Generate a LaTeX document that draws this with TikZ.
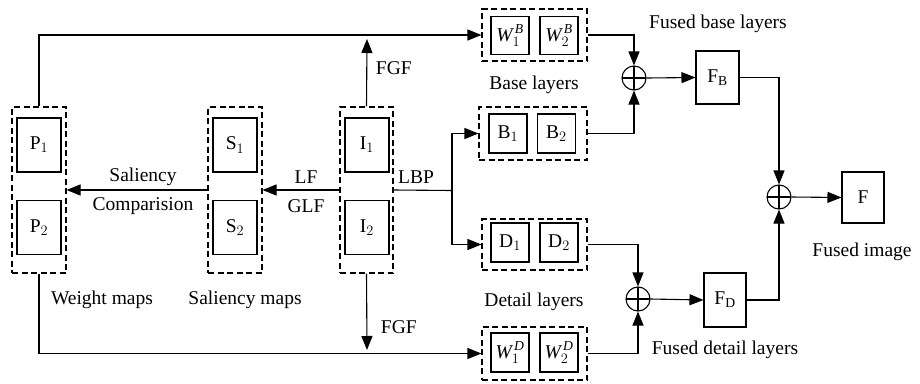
\documentclass[tikz,border=0pt]{standalone}
\usepackage{fontspec}
\setmainfont{Liberation Serif}
\usepackage{tikz}
\usetikzlibrary{arrows.meta}

\tikzset{
  box/.style={draw, line width=1.1pt, minimum width=44, minimum height=54, inner sep=0},
  wbox/.style={draw, line width=1.1pt, minimum width=38, minimum height=38, inner sep=0},
  grp/.style={draw, line width=1.1pt, dash pattern=on 6pt off 3.5pt, inner sep=0},
  oplus/.style={draw, line width=1.1pt, circle, minimum size=24, inner sep=0,
    path picture={\draw[line width=1.1pt] (path picture bounding box.north) -- (path picture bounding box.south)
      (path picture bounding box.west) -- (path picture bounding box.east);}},
  lbl/.style={inner sep=0.75pt},
  conn/.style={line width=1.1pt},
  arr/.style={line width=1.1pt, -{Triangle[length=14pt,width=11pt]}}
}
\newcommand{\wmap}[2]{$\mathit{W}_{#1}^{\mkern3mu\mathit{#2}}$}

\begin{document}
\begin{tikzpicture}[x=1pt,y=1pt,yscale=-1,xscale=1,font=\fontsize{19.5}{23}\selectfont]
    \useasboundingbox (0,0) rectangle (920,383);

    %Shape: Dashed groups
    \node [grp, minimum width=54, minimum height=166] (pg) at (39,190) {};
    \node [grp, minimum width=54, minimum height=166] (sg) at (235,190) {};
    \node [grp, minimum width=53, minimum height=166] (ig) at (366.5,190) {};
    \node [grp, minimum width=105, minimum height=52] (wbg) at (534.5,35) {};
    \node [grp, minimum width=108, minimum height=53] (bg) at (533,133.5) {};
    \node [grp, minimum width=105, minimum height=51] (dg) at (534.5,244.5) {};
    \node [grp, minimum width=105, minimum height=53] (wdg) at (534.5,353.5) {};

    %Shape: Rectangles
    \node [box] (p1) at (39,145) {$\mathrm{P}_1$};
    \node [box] (p2) at (39,227.5) {$\mathrm{P}_2$};
    \node [box] (s1) at (235,145) {$\mathrm{S}_1$};
    \node [box] (s2) at (235,227.5) {$\mathrm{S}_2$};
    \node [box] (i1) at (367,145) {$\mathrm{I}_1$};
    \node [box] (i2) at (367,227.5) {$\mathrm{I}_2$};
    \node [wbox] (w1b) at (510,35.5) {\wmap{1}{B}};
    \node [wbox] (w2b) at (559,35.5) {\wmap{2}{B}};
    \node [wbox, minimum height=39] (b1) at (508,133.5) {$\mathrm{B}_1$};
    \node [wbox, minimum height=39] (b2) at (556.5,133.5) {$\mathrm{B}_2$};
    \node [wbox, minimum height=39] (d1) at (510,242.5) {$\mathrm{D}_1$};
    \node [wbox, minimum height=39] (d2) at (559,242.5) {$\mathrm{D}_2$};
    \node [wbox, minimum height=39] (w1d) at (510,352.5) {\wmap{1}{D}};
    \node [wbox, minimum height=39] (w2d) at (559,352.5) {\wmap{2}{D}};
    \node [box, minimum width=43, minimum height=53] (fb) at (717.5,77.5) {$\mathrm{F}_\mathrm{B}$};
    \node [box, minimum width=42, minimum height=54] (fd) at (725,300) {$\mathrm{F}_\mathrm{D}$};
    \node [box, minimum width=42, minimum height=51] (f) at (863,197.5) {F};

    %Shape: Circles
    \node [oplus] (c1) at (634,78) {};
    \node [oplus] (c2) at (779,197) {};
    \node [oplus] (c3) at (638,299) {};

    \coordinate (fgfup) at (367,39);
    \coordinate (fgfdn) at (367,350);
    \coordinate (lbp) at (452,190.5);

    %Straight Lines
    \draw [arr] (pg.north) |- (wbg.west);
    \draw [arr] (pg.south) |- (wdg.west);
    \draw [arr] (ig.north) -- (fgfup);
    \draw [arr] (ig.south) -- (fgfdn);
    \draw [arr] (sg.west) -- (pg.east);
    \draw [arr] (ig.west) -- (sg.east);
    \draw [conn] (ig.east) -- (lbp);
    \draw [arr] (lbp) |- (bg.west);
    \draw [arr] (lbp) |- (dg.west);
    \draw [arr] (wbg.east) -| (c1.north);
    \draw [arr] (bg.east) -| (c1.south);
    \draw [arr] (c1.east) -- (fb.west);
    \draw [arr] (fb.east) -| (c2.north);
    \draw [arr] (dg.east) -| (c3.north);
    \draw [arr] (wdg.east) -| (c3.south);
    \draw [arr] (c3.east) -- (fd.west);
    \draw [arr] (fd.east) -| (c2.south);
    \draw [arr] (c2.east) -- (f.west);

    % Text Node
    \node [lbl] (tfusedb) at (718,24) {Fused base layers};
    % Text Node
    \node [lbl] (tbase) at (534,85) {Base layers};
    % Text Node
    \node [lbl, anchor=west] (tfgfu) at (375,68) {FGF};
    % Text Node
    \node [lbl, anchor=west] (tfgfd) at (380,327) {FGF};
    % Text Node
    \node [lbl] (tsal) at (143,177) {Saliency};
    % Text Node
    \node [lbl] (tcomp) at (143,206) {Comparision};
    % Text Node
    \node [lbl] (tlf) at (306,177) {LF};
    % Text Node
    \node [lbl] (tglf) at (306,206) {GLF};
    % Text Node
    \node [lbl] (tlbp) at (416,177) {LBP};
    % Text Node
    \node [lbl] (tweight) at (102,300) {Weight maps};
    % Text Node
    \node [lbl] (tsalmaps) at (245,300) {Saliency maps};
    % Text Node
    \node [lbl] (tdetail) at (534,302) {Detail layers};
    % Text Node
    \node [lbl] (tfusedd) at (725,350) {Fused detail layers};
    % Text Node
    \node [lbl] (tfusedi) at (862,252) {Fused image};

\end{tikzpicture}
\end{document}
